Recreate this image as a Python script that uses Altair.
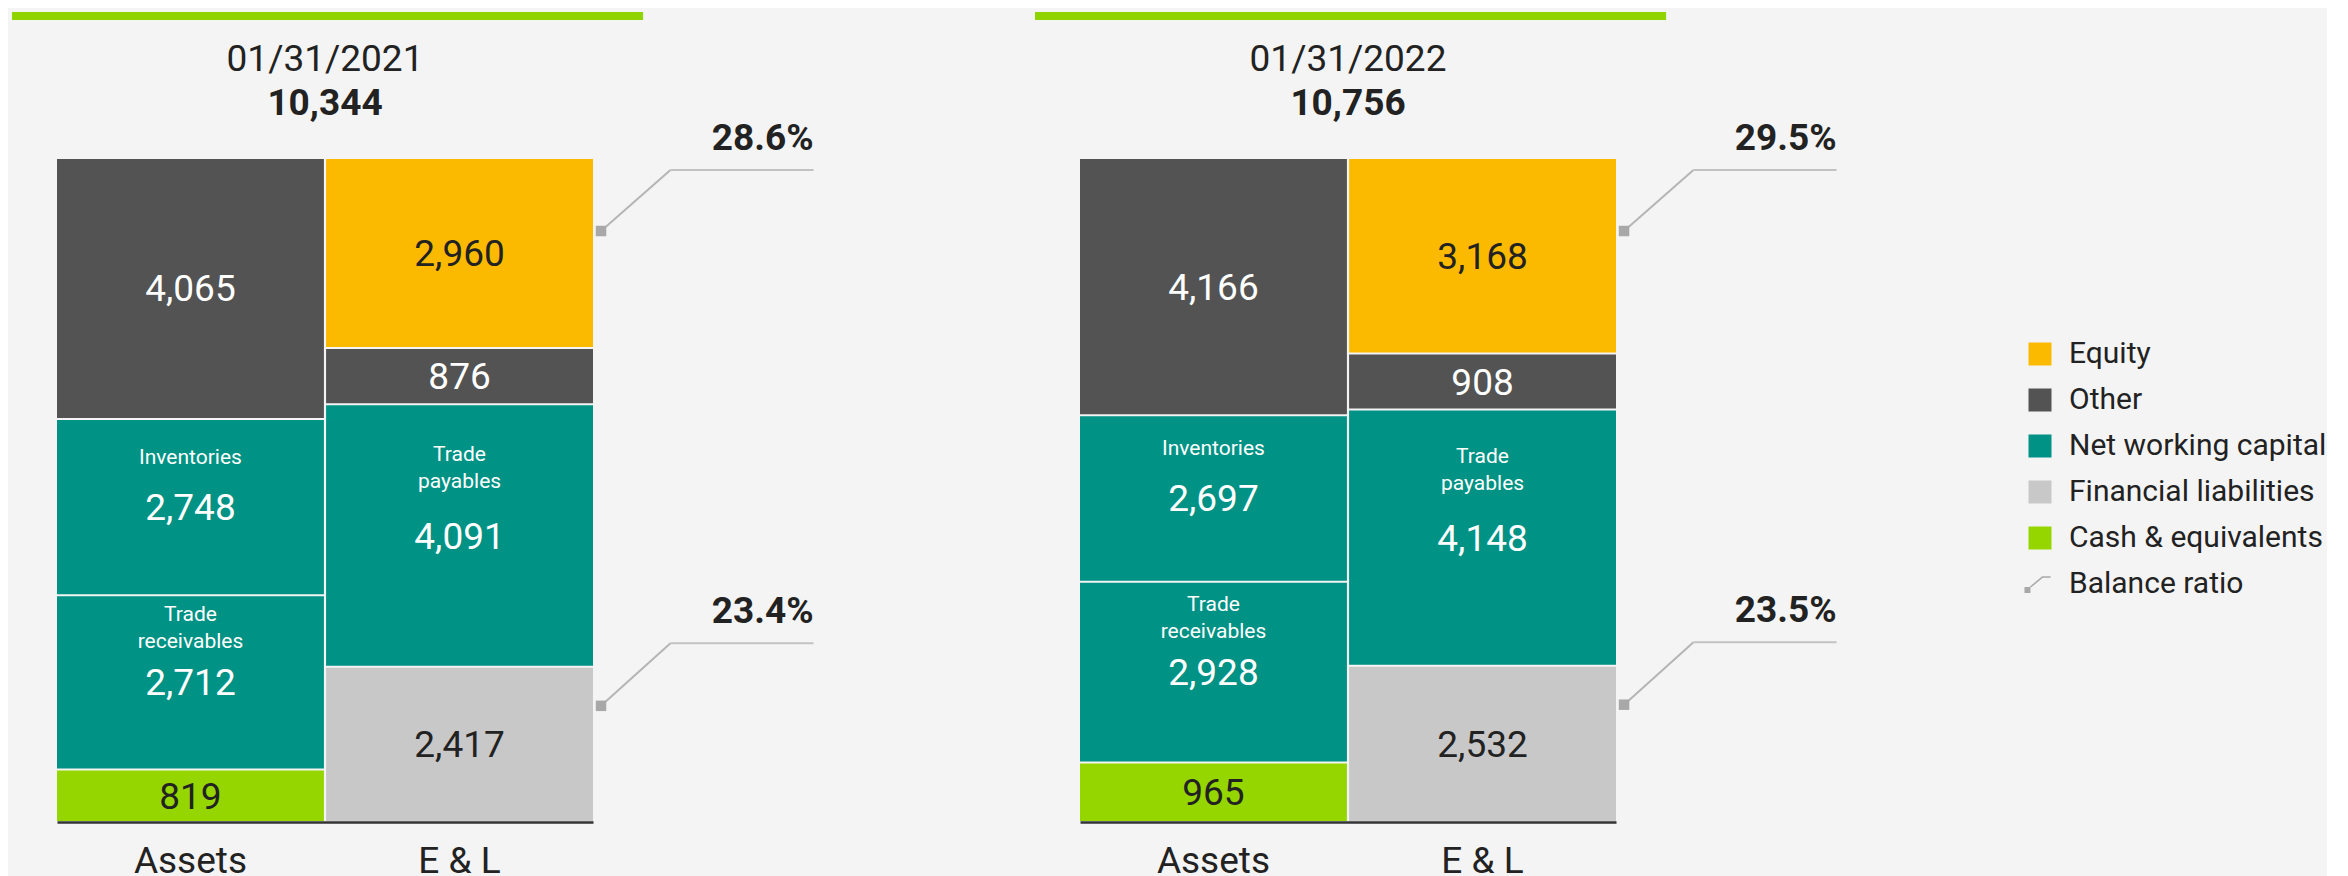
import altair as alt
import pandas as pd

# ---------------- data ----------------
dates = ["01/31/2021", "01/31/2022"]
totals = [10344, 10756]

sides = ["Assets", "E & L"]

asset_segments = ["Cash & equivalents", "Trade receivables", "Inventories", "Other"]
asset_groups = ["Cash & equivalents", "Net working capital", "Net working capital", "Other"]
asset_captions = ["", "Trade\nreceivables", "Inventories", ""]

el_segments = ["Financial liabilities", "Trade payables", "Other", "Equity"]
el_groups = ["Financial liabilities", "Net working capital", "Other", "Equity"]
el_captions = ["", "Trade\npayables", "", ""]

assets_2021 = [819, 2712, 2748, 4065]
el_2021 = [2417, 4091, 876, 2960]
assets_2022 = [965, 2928, 2697, 4166]
el_2022 = [2532, 4148, 908, 3168]
assets_values = [assets_2021, assets_2022]
el_values = [el_2021, el_2022]

equity_ratio = [28.6, 29.5]
finliab_ratio = [23.4, 23.5]

legend_items = ["Equity", "Other", "Net working capital",
                "Financial liabilities", "Cash & equivalents", "Balance ratio"]
legend_colors = ["#FBBA00", "#535353", "#009284", "#C8C8C8", "#95D600", "#A8A8A8"]

# ---------------- styling ----------------
FONT = "Roboto"
DARK = "#222222"
PLOT_H = 664
PANEL_W = [536, 536]

ratio_symbol = ("M-1.35,0.26L-0.83,0.26L-0.83,0.78L-1.35,0.78Z "
                "M-0.87,0.21L0.19,-0.67L0.92,-0.67L0.92,-0.54L0.24,-0.54L-0.79,0.31Z")

color_scale = alt.Scale(domain=legend_items, range=legend_colors)
shape_scale = alt.Scale(domain=legend_items,
                        range=["square"] * 5 + [ratio_symbol])

legend_def = alt.Legend(
    title=None, orient="none", legendX=1968, legendY=181, padding=0,
    symbolType="square", symbolSize=529, symbolStrokeWidth=0,
    labelFont=FONT, labelFontSize=30, labelColor=DARK, labelOffset=14,
    labelLimit=500, rowPadding=16, direction="vertical",
)

dark_test = ("datum.group == 'Equity' || datum.group == 'Financial liabilities'"
             " || datum.group == 'Cash & equivalents'")


def panel(i):
    W = PANEL_W[i]
    bw = W / 2
    rows = []
    order = 0
    for seg, grp, cap, val in zip(asset_segments, asset_groups, asset_captions, assets_values[i]):
        rows.append(dict(side="Assets", segment=seg, group=grp, caption=cap,
                         value=val, order=order, ratio_label=""))
        order += 1
    for seg, grp, cap, val in zip(el_segments, el_groups, el_captions, el_values[i]):
        if seg == "Equity":
            rl = f"{equity_ratio[i]:.1f}%"
        elif seg == "Financial liabilities":
            rl = f"{finliab_ratio[i]:.1f}%"
        else:
            rl = ""
        rows.append(dict(side="E & L", segment=seg, group=grp, caption=cap,
                         value=val, order=order, ratio_label=rl))
        order += 1
    df = pd.DataFrame(rows)

    xs = alt.Scale(domain=sides, paddingInner=0.008, paddingOuter=0)
    ys = alt.Scale(domain=[0, totals[i]], nice=False, zero=True)
    xaxis = alt.Axis(title=None, domain=True, domainColor="#333333", domainWidth=2.5,
                     ticks=False, grid=False, labelAngle=0, labelFont=FONT,
                     labelFontSize=37, labelColor=DARK, labelPadding=21)

    base = alt.Chart(df).transform_stack(
        stack="value", groupby=["side"], as_=["y0", "y1"],
        sort=[alt.SortField("order", order="ascending")],
    ).transform_calculate(mid="(datum.y0 + datum.y1) / 2")

    X = alt.X("side:N", scale=xs, axis=xaxis)
    YM = alt.Y("mid:Q", scale=ys, axis=None)
    bars = base.mark_bar(yOffset=-1, y2Offset=1, opacity=1).encode(
        x=X,
        y=alt.Y("y0:Q", scale=ys, axis=None),
        y2="y1:Q",
        color=alt.Color("group:N", scale=color_scale, legend=legend_def),
    )

    values = base.mark_text(font=FONT, fontSize=37, baseline="middle", dy=2).encode(
        x=X,
        y=YM,
        text=alt.Text("value:Q", format=","),
        color=alt.condition(dark_test, alt.value(DARK), alt.value("white")),
    )

    def caption(seg, dy):
        return base.transform_filter(alt.datum.segment == seg).mark_text(
            font=FONT, fontSize=21, lineBreak="\n", lineHeight=27,
            baseline="middle", dy=dy, color="white").encode(
            x=X, y=YM, text="caption:N")

    caps = [caption("Inventories", -49),
            caption("Trade receivables", -67),
            caption("Trade payables", -81)]

    x_mark = W + 0.030 * bw
    x_elbow = W + 0.289 * bw
    x_end = W + 0.823 * bw

    def leader(seg, marker_off, elbow_off):
        src = base.transform_filter(alt.datum.segment == seg)
        Y = alt.Y("y1:Q", scale=ys, axis=None)
        diag = src.mark_rule(color="#B5B5B5", strokeWidth=2,
                             yOffset=marker_off, y2Offset=elbow_off).encode(
            x=alt.value(x_mark), x2=alt.value(x_elbow), y=Y, y2="y1:Q")
        horiz = src.mark_rule(color="#C2C2C2", strokeWidth=2, yOffset=elbow_off).encode(
            x=alt.value(x_elbow), x2=alt.value(x_end), y=Y)
        marker = src.mark_square(size=110, color="#A8A8A8", opacity=1,
                                 yOffset=marker_off).encode(
            x=alt.value(x_mark), y=Y)
        label = src.mark_text(font=FONT, fontSize=37, fontWeight="bold", color=DARK,
                              align="right", baseline="alphabetic",
                              yOffset=elbow_off - 20).encode(
            x=alt.value(x_end), y=Y, text="ratio_label:N")
        return [diag, horiz, marker, label]

    header_df = pd.DataFrame({"date": [dates[i]], "total": [totals[i]]})
    header = alt.Chart(header_df)
    green = header.mark_rect(color="#8FD400").encode(
        x=alt.value(-0.168 * bw), x2=alt.value(W + 0.187 * bw),
        y=alt.value(-146), y2=alt.value(-138))
    date_txt = header.mark_text(font=FONT, fontSize=37, color=DARK,
                                baseline="alphabetic").encode(
        x=alt.value(W / 2), y=alt.value(-87), text="date:N")
    total_txt = header.mark_text(font=FONT, fontSize=37, fontWeight="bold", color=DARK,
                                 baseline="alphabetic").encode(
        x=alt.value(W / 2), y=alt.value(-43), text=alt.Text("total:Q", format=","))

    legend_layer = alt.Chart(pd.DataFrame({"group": legend_items})).transform_filter(
        "false"
    ).mark_point(filled=True, opacity=1).encode(
        color=alt.Color("group:N", scale=color_scale, legend=legend_def),
        shape=alt.Shape("group:N", scale=shape_scale, legend=legend_def),
    )

    layers = [bars, values] + caps
    layers += leader("Equity", 73, 12)
    layers += leader("Financial liabilities", 39, -23.5)
    layers += [green, date_txt, total_txt, legend_layer]
    return alt.layer(*layers).properties(width=W, height=PLOT_H)


chart = alt.hconcat(panel(0), panel(1), spacing=487, bounds="flush").properties(
    padding={"left": 3, "top": 4, "right": 0, "bottom": 0}
).configure(
    background="#F4F4F4", font=FONT
).configure_view(strokeWidth=0)

chart.save("out.html", embed_options={"renderer": "svg", "actions": False})
